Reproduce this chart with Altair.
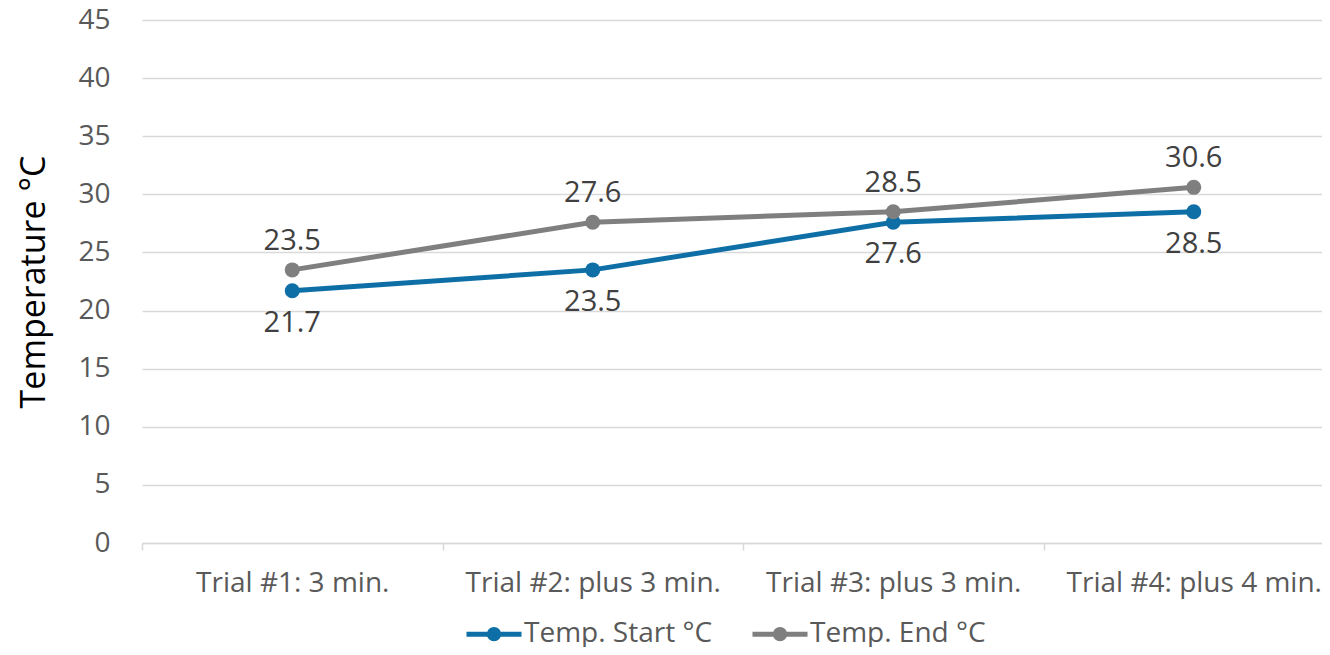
import json
import altair as alt
import pandas as pd

# ---- data ----
categories = ["Trial #1: 3 min.", "Trial #2: plus 3 min.", "Trial #3: plus 3 min.", "Trial #4: plus 4 min."]
temp_start = [21.7, 23.5, 27.6, 28.5]
temp_end = [23.5, 27.6, 28.5, 30.6]
series_names = ["Temp. Start °C", "Temp. End °C"]
series_colors = ["#0E6FA6", "#7F7F7F"]
y_ticks = [0, 5, 10, 15, 20, 25, 30, 35, 40, 45]

FONT = "Open Sans"

rows = []
for i, c in enumerate(categories):
    rows.append({"idx": i, "cat": c, "series": series_names[0], "value": temp_start[i]})
    rows.append({"idx": i, "cat": c, "series": series_names[1], "value": temp_end[i]})
df = pd.DataFrame(rows)

n = len(categories)
plot_w, plot_h = 1180, 523
step = 300.5
x_domain = [-0.5, -0.5 + plot_w / step]
tick_values = [i - 0.5 for i in range(n)] + list(range(n))
label_expr = "datum.value % 1 === 0 ? " + json.dumps(categories) + "[datum.value] : ''"

x_enc = alt.X(
    "idx:Q",
    scale=alt.Scale(domain=x_domain, nice=False, zero=False),
    axis=alt.Axis(
        values=tick_values,
        labelExpr=label_expr,
        title=None,
        grid=False,
        domain=True,
        domainColor="#D9D9D9",
        domainWidth=1.5,
        tickColor="#D9D9D9",
        tickWidth=1.5,
        tickSize=7,
        tickOpacity={"condition": {"test": "datum.value % 1 === 0", "value": 0}, "value": 1},
        labelPadding=19,
        labelFont=FONT,
        labelFontSize=28,
        labelColor="#595959",
        labelLimit=500,
        labelOverlap=False,
        labelFlush=False,
        labelBound=False,
    ),
)

y_enc = alt.Y(
    "value:Q",
    scale=alt.Scale(domain=[0, 45], nice=False, zero=True),
    axis=alt.Axis(
        values=y_ticks,
        title="Temperature °C",
        titleFont=FONT,
        titleFontSize=34,
        titleFontWeight="normal",
        titleColor="#000000",
        titlePadding=26,
        labelPadding=32,
        labelFont=FONT,
        labelFontSize=28,
        labelColor="#595959",
        ticks=False,
        domain=False,
        grid=True,
        gridColor="#D9D9D9",
        gridWidth=1.5,
    ),
)

legend_symbol = (
    "M-1,0L1,0"
    "M-0.17,0a0.17,0.17 0 1,0 0.34,0a0.17,0.17 0 1,0 -0.34,0"
    "M-0.06,0a0.06,0.06 0 1,0 0.12,0a0.06,0.06 0 1,0 -0.12,0"
)

color_enc = alt.Color(
    "series:N",
    scale=alt.Scale(domain=series_names, range=series_colors),
    legend=alt.Legend(
        title=None,
        orient="none",
        direction="horizontal",
        legendX=322,
        legendY=584,
        symbolType=legend_symbol,
        symbolSize=3025,
        symbolStrokeWidth=5,
        labelFont=FONT,
        labelFontSize=28,
        labelColor="#595959",
        labelLimit=500,
        labelOffset=0,
        columnPadding=29,
        padding=0,
    ),
)

base = alt.Chart(df)

lines = base.mark_line(
    strokeWidth=5,
    point=alt.OverlayMarkDef(filled=True, size=225, opacity=1),
).encode(x=x_enc, y=y_enc, color=color_enc, order="idx:Q")

labels_end = base.transform_filter(alt.datum.series == series_names[1]).mark_text(
    dy=-29, font=FONT, fontSize=29, color="#404040", baseline="middle", align="center"
).encode(x="idx:Q", y="value:Q", text=alt.Text("value:Q", format=".1f"))

labels_start = base.transform_filter(alt.datum.series == series_names[0]).mark_text(
    dy=32, font=FONT, fontSize=29, color="#404040", baseline="middle", align="center"
).encode(x="idx:Q", y="value:Q", text=alt.Text("value:Q", format=".1f"))

chart = (
    alt.layer(lines, labels_end, labels_start)
    .properties(
        width=plot_w,
        height=plot_h,
        background="white",
        autosize=alt.AutoSizeParams(type="none"),
        padding={"left": 134, "top": 12, "right": 0, "bottom": 104},
    )
    .configure_axis(domain=False)
    .configure_view(strokeWidth=0, stroke="transparent")
)

chart.save("out.html", embed_options={"renderer": "svg", "actions": False})
